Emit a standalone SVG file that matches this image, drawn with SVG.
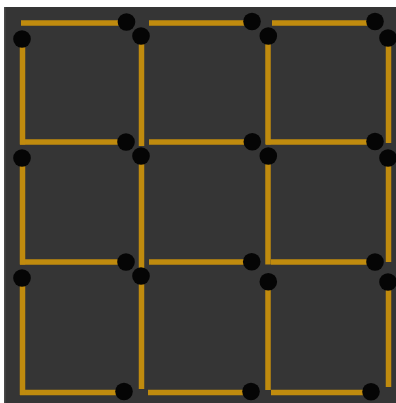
<svg xmlns="http://www.w3.org/2000/svg" width="396" height="403" viewBox="0 0 396 403">
<style>
.s{stroke:#c08b0e;stroke-width:5.5;stroke-linecap:butt;fill:none}
.h{fill:#050505}
</style>
<rect width="396" height="403" fill="#ffffff"/>
<rect x="4" y="7" width="392" height="396" fill="#353535"/>
<rect x="4" y="7" width="1.5" height="396" fill="#4a4a4a"/>
<g id="horizontal">
<g id="h11"><line class="s" x1="21" y1="23" x2="126" y2="23"/><circle class="h" cx="126.5" cy="22" r="8.8"/></g>
<g id="h12"><line class="s" x1="149" y1="23" x2="252" y2="23"/><circle class="h" cx="252" cy="21.5" r="8.8"/></g>
<g id="h13"><line class="s" x1="272" y1="23" x2="375" y2="23"/><circle class="h" cx="375" cy="21.5" r="8.8"/></g>
<g id="h21"><line class="s" x1="20" y1="142" x2="126" y2="142"/><circle class="h" cx="126" cy="142" r="8.8"/></g>
<g id="h22"><line class="s" x1="149" y1="142" x2="252" y2="142"/><circle class="h" cx="252.3" cy="141.7" r="8.8"/></g>
<g id="h23"><line class="s" x1="266" y1="142" x2="375" y2="142"/><circle class="h" cx="375" cy="141.5" r="8.8"/></g>
<g id="h31"><line class="s" x1="20" y1="262" x2="126" y2="262"/><circle class="h" cx="126" cy="262" r="8.8"/></g>
<g id="h32"><line class="s" x1="149" y1="262" x2="252" y2="262"/><circle class="h" cx="251.7" cy="261.7" r="8.8"/></g>
<g id="h33"><line class="s" x1="271" y1="262" x2="375" y2="262"/><circle class="h" cx="375" cy="262" r="8.8"/></g>
<g id="h41"><line class="s" x1="20" y1="392.5" x2="124" y2="392.5"/><circle class="h" cx="124" cy="391.5" r="8.8"/></g>
<g id="h42"><line class="s" x1="148" y1="392.5" x2="251" y2="392.5"/><circle class="h" cx="251" cy="391.5" r="8.8"/></g>
<g id="h43"><line class="s" x1="271" y1="392.5" x2="371" y2="392.5"/><circle class="h" cx="371" cy="391.7" r="8.8"/></g>
</g>
<g id="vertical">
<g id="v11"><line class="s" x1="22.5" y1="39" x2="22.5" y2="144.5"/><circle class="h" cx="22" cy="39" r="8.8"/></g>
<g id="v12"><line class="s" x1="22.5" y1="158" x2="22.5" y2="264.5"/><circle class="h" cx="22" cy="158" r="8.8"/></g>
<g id="v13"><line class="s" x1="22.5" y1="278" x2="22.5" y2="395"/><circle class="h" cx="22" cy="278" r="8.8"/></g>
<g id="v21"><line class="s" x1="141.5" y1="36" x2="141.5" y2="146"/><circle class="h" cx="141" cy="36" r="8.8"/></g>
<g id="v22"><line class="s" x1="141.5" y1="156" x2="141.5" y2="272"/><circle class="h" cx="141" cy="156" r="8.8"/></g>
<g id="v23"><line class="s" x1="141.5" y1="276" x2="141.5" y2="389"/><circle class="h" cx="141" cy="276" r="8.8"/></g>
<g id="v31"><line class="s" x1="268" y1="36" x2="268" y2="144.5"/><circle class="h" cx="268.3" cy="36" r="8.8"/></g>
<g id="v32"><line class="s" x1="268" y1="156" x2="268" y2="264.5"/><circle class="h" cx="268.3" cy="156" r="8.8"/></g>
<g id="v33"><line class="s" x1="268" y1="281" x2="268" y2="390"/><circle class="h" cx="268.3" cy="281.7" r="8.8"/></g>
<g id="v41"><line class="s" x1="388.5" y1="38" x2="388.5" y2="143"/><circle class="h" cx="388" cy="38" r="8.8"/></g>
<g id="v42"><line class="s" x1="388.5" y1="158" x2="388.5" y2="262"/><circle class="h" cx="388" cy="158" r="8.8"/></g>
<g id="v43"><line class="s" x1="388.5" y1="282" x2="388.5" y2="387"/><circle class="h" cx="388" cy="282" r="8.8"/></g>
</g>
</svg>
